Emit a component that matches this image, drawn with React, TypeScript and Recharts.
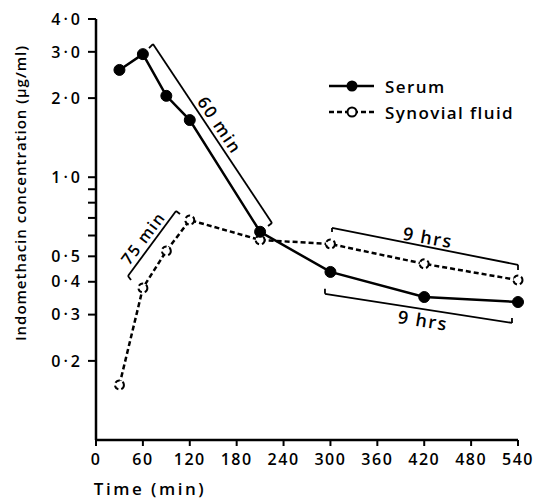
import React from "react";
import {
  LineChart,
  Line,
  XAxis,
  YAxis,
  ReferenceLine,
  ReferenceDot,
  Legend,
  Label,
} from "recharts";

// sampling times (min)
const TIME = [30, 60, 90, 120, 210, 300, 420, 540];
// indomethacin concentration (ug/ml)
const SERUM = [2.56, 2.94, 2.04, 1.65, 0.62, 0.436, 0.35, 0.335];
const SYNOVIAL = [0.162, 0.379, 0.524, 0.687, 0.577, 0.557, 0.468, 0.406];

const X_TICKS = [0, 60, 120, 180, 240, 300, 360, 420, 480, 540];
const Y_TICKS = [0.2, 0.3, 0.4, 0.5, 0.6, 0.7, 0.8, 0.9, 1, 2, 3, 4];
const Y_LABELED = [0.2, 0.3, 0.4, 0.5, 1, 2, 3, 4];

// brackets drawn on the figure: [tick end, line start, line end, tick end]
const BRACKET_60: [number, number][] = [[67.8, 3.1], [72.9, 3.21], [225.2, 0.67], [220.1, 0.652]];
const BRACKET_75: [number, number][] = [[44.8, 0.406], [40.9, 0.421], [102.4, 0.744], [107.5, 0.724]];
const BRACKET_9H_TOP: [number, number][] = [[302, 0.619], [302, 0.641], [540, 0.464], [540, 0.444]];
const BRACKET_9H_BOTTOM: [number, number][] = [[293, 0.376], [293, 0.36], [532.3, 0.279], [532.3, 0.291]];

// bracket captions: text, time, conc, rotation, font size
const NOTES: [string, number, number, number, number][] = [
  ["60 min", 158.7, 1.58, 56, 17],
  ["75 min", 60.1, 0.587, -53, 16],
  ["9 hrs", 424.8, 0.592, 10, 18],
  ["9 hrs", 418.4, 0.286, 9, 18],
];

const data = TIME.map((t, i) => ({ time: t, serum: SERUM[i], synovial: SYNOVIAL[i] }));

const FONT = "'Open Sans', sans-serif";

function fmtY(v: number) {
  if (!Y_LABELED.includes(v)) return "";
  return v.toFixed(1).replace(".", "·");
}

function bracketLines(pts: [number, number][], key: string) {
  const out = [];
  for (let i = 0; i < pts.length - 1; i++) {
    out.push(
      <ReferenceLine
        key={key + i}
        segment={[
          { x: pts[i][0], y: pts[i][1] },
          { x: pts[i + 1][0], y: pts[i + 1][1] },
        ]}
        stroke="#000"
        strokeWidth={1.8}
      />
    );
  }
  return out;
}

function LegendBox() {
  return (
    <div style={{ fontFamily: FONT, fontSize: 17, fontWeight: 600, letterSpacing: 1.4, color: "#000" }}>
      <div style={{ display: "flex", alignItems: "center", height: 26 }}>
        <svg width={58} height={14}>
          <line x1={2} y1={7} x2={47} y2={7} stroke="#000" strokeWidth={2.5} />
          <circle cx={25} cy={7} r={5.5} fill="#000" />
        </svg>
        <span>Serum</span>
      </div>
      <div style={{ display: "flex", alignItems: "center", height: 26 }}>
        <svg width={58} height={14}>
          <line x1={2} y1={7} x2={47} y2={7} stroke="#000" strokeWidth={2.5} strokeDasharray="5 3" />
          <circle cx={25} cy={7} r={4.5} fill="#fff" stroke="#000" strokeWidth={2} />
        </svg>
        <span>Synovial fluid</span>
      </div>
    </div>
  );
}

export default function App() {
  return (
    <div style={{ position: "absolute", left: 0, top: 0, width: 535, height: 499, background: "#fff" }}>
      <LineChart width={535} height={499} data={data} margin={{ top: 19, right: 17, left: 36, bottom: 29 }}>
        <XAxis
          dataKey="time"
          type="number"
          domain={[0, 540]}
          ticks={X_TICKS}
          interval={0}
          axisLine={{ stroke: "#000", strokeWidth: 2.5 }}
          tickLine={{ stroke: "#000", strokeWidth: 2 }}
          tickSize={6}
          tickMargin={8}
          height={30}
          tick={{ fill: "#000", fontSize: 16, fontFamily: FONT, fontWeight: 600, letterSpacing: 1.5 }}
        >
          <Label
            content={() => (
              <text
                x={150}
                y={495}
                textAnchor="middle"
                fontFamily={FONT}
                fontSize={17}
                fontWeight={600}
                letterSpacing={2.5}
                fill="#000"
              >
                Time (min)
              </text>
            )}
          />
        </XAxis>
        <YAxis
          type="number"
          scale="log"
          domain={[0.1, 4]}
          allowDataOverflow
          ticks={Y_TICKS}
          interval={0}
          tickFormatter={fmtY}
          axisLine={{ stroke: "#000", strokeWidth: 2.5 }}
          tickLine={{ stroke: "#000", strokeWidth: 2 }}
          tickSize={8}
          tickMargin={5}
          width={60}
          tick={{ fill: "#000", fontSize: 16, fontFamily: FONT, fontWeight: 600, letterSpacing: 3 }}
        >
          <Label
            content={() => (
              <text
                x={26}
                y={193}
                transform="rotate(-90 26 193)"
                textAnchor="middle"
                fontFamily={FONT}
                fontSize={15}
                fontWeight={600}
                letterSpacing={1}
                fill="#000"
              >
                Indomethacin concentration (µg/ml)
              </text>
            )}
          />
        </YAxis>
        <Legend
          layout="vertical"
          align="center"
          verticalAlign="middle"
          wrapperStyle={{ left: 327, top: 73, width: 205 }}
          content={() => <LegendBox />}
        />
        {bracketLines(BRACKET_60, "b60")}
        {bracketLines(BRACKET_75, "b75")}
        {bracketLines(BRACKET_9H_TOP, "b9t")}
        {bracketLines(BRACKET_9H_BOTTOM, "b9b")}
        {NOTES.map(([txt, x, y, rot, fs], i) => (
          <ReferenceDot
            key={"n" + i}
            x={x}
            y={y}
            r={0}
            shape={(p: any) => (
              <text
                x={p.cx}
                y={p.cy}
                transform={`rotate(${rot} ${p.cx} ${p.cy})`}
                textAnchor="middle"
                dominantBaseline="central"
                fontFamily={FONT}
                fontSize={fs}
                fontWeight={600}
                letterSpacing={1.5}
                fill="#000"
              >
                {txt}
              </text>
            )}
          />
        ))}
        <Line
          dataKey="synovial"
          stroke="#000"
          strokeWidth={2.5}
          strokeDasharray="5 3"
          dot={{ r: 4.5, fill: "#fff", stroke: "#000", strokeWidth: 2 }}
          isAnimationActive={false}
        />
        <Line
          dataKey="serum"
          stroke="#000"
          strokeWidth={2.5}
          dot={{ r: 5.5, fill: "#000", stroke: "#000", strokeWidth: 1 }}
          isAnimationActive={false}
        />
      </LineChart>
    </div>
  );
}
